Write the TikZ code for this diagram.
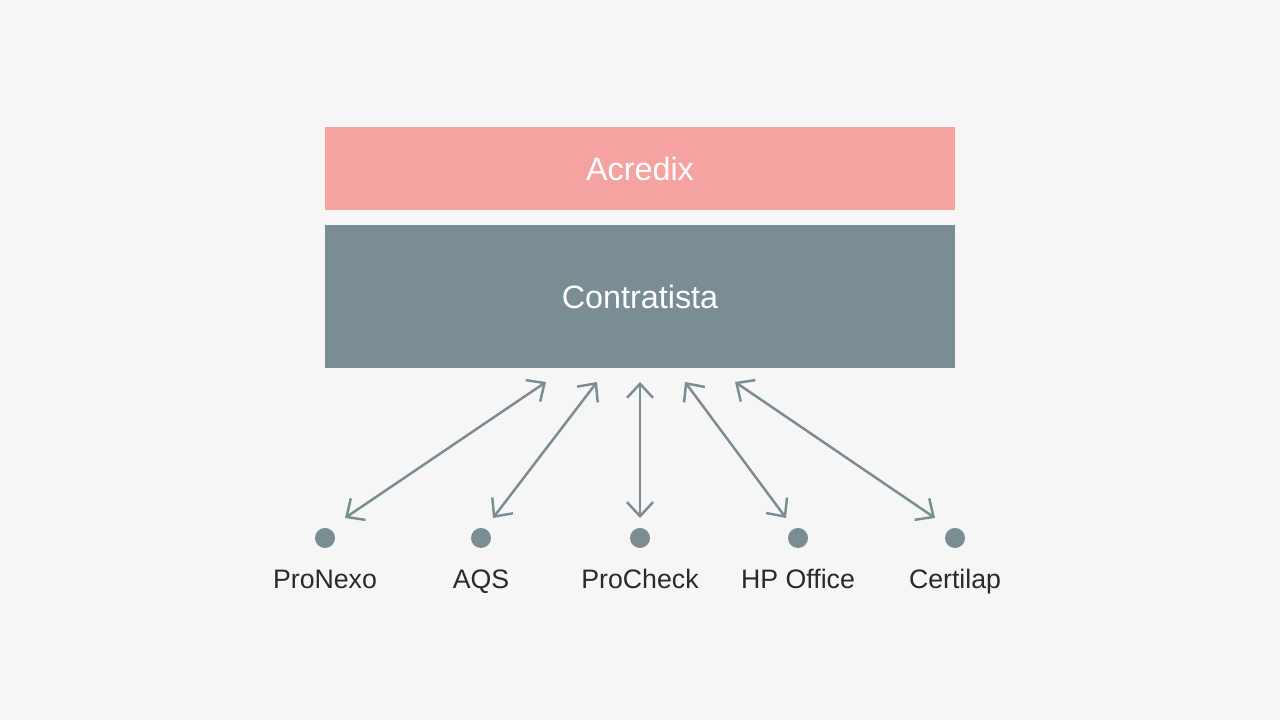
\documentclass[tikz,border=0pt]{standalone}
\usepackage{fontspec}
\setmainfont{Liberation Sans}
\usetikzlibrary{arrows.meta, positioning}
\definecolor{bgpaper}{HTML}{F6F6F6}
\definecolor{salmon}{HTML}{F5A3A0}
\definecolor{slategray}{HTML}{7A8D93}
\definecolor{inkdark}{HTML}{2A2A2A}

\begin{document}
\begin{tikzpicture}[
  layer/.style={fill=#1, draw=none, minimum width=6.3cm, text=white, font=\fontsize{9.2}{11}\selectfont},
  dot/.style={circle, fill=slategray, draw=none, minimum size=0.2cm, inner sep=0pt},
  tool/.style={text=inkdark, anchor=base, font=\fontsize{7.6}{9}\selectfont},
  link/.style={draw=slategray, line width=0.7pt, {Straight Barb[length=1.4mm, width=2.6mm]}-{Straight Barb[length=1.4mm, width=2.6mm]}},
]

  \fill[bgpaper] (0, 0) rectangle (12.8, 7.2);
  \useasboundingbox (0, 0) rectangle (12.8, 7.2);

  \node[layer=salmon, minimum height=0.83cm] (acredix) at (6.4, 5.515) {Acredix};
  \node[layer=slategray, minimum height=1.43cm] (contratista) at (6.4, 4.235) {Contratista};

  \foreach \name/\x/\top/\bot [count=\i] in {ProNexo/3.25/5.46/3.45, AQS/4.81/5.97/4.93, ProCheck/6.40/6.40/6.40, HP Office/7.98/6.85/7.86, Certilap/9.55/7.35/9.35} {
    \node[dot] (d\i) at (\x, 1.82) {};
    \node[tool] (l\i) at (\x, 1.31) {\name};
    \coordinate (t\i) at (\top, 3.38);
    \coordinate (b\i) at (\bot, 2.02);
    \draw[link] (b\i) -- (t\i);
  }

\end{tikzpicture}
\end{document}
